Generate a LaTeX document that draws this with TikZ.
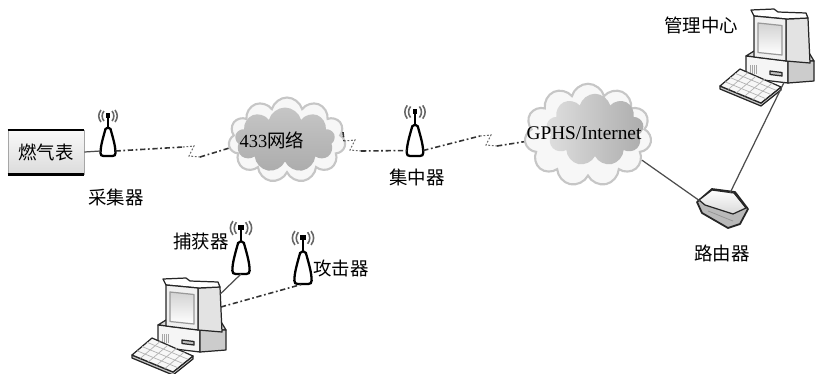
\documentclass[tikz,border=0pt]{standalone}
\usepackage{fontspec}
\setmainfont{Liberation Serif}
\newfontfamily\cjk{Noto Sans CJK SC}
\usetikzlibrary{shapes.symbols}
\tikzset{
  tag/.style={font=\fontsize{10.5}{12}\selectfont, inner sep=1pt},
  cable/.style={draw=black!70, line width=0.7pt},
  radio/.style={draw=black!80, line width=0.9pt, dash pattern=on 3pt off 1.5pt on 1pt off 1.5pt},
  radiozig/.style={draw=black!60, line width=0.6pt, dash pattern=on 1pt off 1pt},
  pcpart/.style={draw=black!85, line width=0.7pt, line join=round},
  antbody/.style={draw=black, line width=1.3pt, fill=white},
  wave/.style={draw=black!60, line width=0.9pt},
  netcloud/.style={cloud, cloud puffs=11, cloud ignores aspect, draw=gray!45,
    line width=1.2pt, fill=gray!6, inner sep=0pt},
  netcore/.style={cloud, cloud puffs=9, cloud ignores aspect, draw=none,
    top color=gray!45, bottom color=gray!65, inner sep=0pt},
  meterbox/.style={draw=gray!70, top color=gray!5, bottom color=gray!28,
    minimum width=1.52cm, minimum height=0.88cm, inner sep=0pt}
}
% antenna: name, foot point, size
\newcommand\antenna[3]{%
  \begin{scope}[shift={(#2)}, scale=#3]
    \draw[wave] (-4,-45) .. controls (-6.5,-42) and (-6.5,-38) .. (-4,-35);
    \draw[wave] (-7,-46) .. controls (-10,-42) and (-10,-38) .. (-7,-34);
    \draw[wave] (4,-45) .. controls (6.5,-42) and (6.5,-38) .. (4,-35);
    \draw[wave] (7,-46) .. controls (10,-42) and (10,-38) .. (7,-34);
    \draw[line width=1.4pt] (0,-26) -- (0,-40);
    \fill (-2.2,-43) rectangle (2.2,-38);
    \draw[antbody] (-2.5,-27) .. controls (-5,-18) and (-7.5,-10) .. (-7.5,-3)
      .. controls (-7.5,-1) and (-6.5,0) .. (-4.5,0) -- (4.5,0)
      .. controls (6.5,0) and (7.5,-1) .. (7.5,-3)
      .. controls (7.5,-10) and (5,-18) .. (2.5,-27)
      .. controls (1.5,-29) and (-1.5,-29) .. (-2.5,-27) -- cycle;
    \coordinate (#1-l) at (-7.5,-5);
    \coordinate (#1-r) at (7.5,-5);
    \coordinate (#1) at (0,0);
  \end{scope}
}
% desktop pc: name, origin
\newcommand\computer[2]{%
  \begin{scope}[shift={(#2)}]
    % case
    \draw[pcpart, fill=gray!30] (-2,45) -- (6,40) -- (60,40) -- (66,50) -- (40,50) -- cycle;
    \draw[pcpart, fill=gray!8] (-2,45) -- (40,50) -- (40,72) -- (-2,67) -- cycle;
    \draw[pcpart, fill=gray!40] (40,50) -- (66,50) -- (66,70) -- (40,72) -- cycle;
    \foreach \v in {2,4,6,8} \draw[gray!70] (\v,54) -- (\v,63);
    \draw[pcpart, fill=gray!50] (22,60) -- (34,61.5) -- (34,65) -- (22,63.5) -- cycle;
    % monitor
    \draw[pcpart, fill=gray!22] (38,8) -- (60,7) -- (62,52) -- (38,50) -- cycle;
    \draw[pcpart, fill=white] (6,5) -- (3,-1) -- (26,-2) -- (30,1) -- (58,2) -- (60,7) -- (38,8) -- cycle;
    \draw[pcpart, fill=gray!12] (6,5) -- (38,8) -- (38,50) -- (6,46) -- cycle;
    \draw[pcpart, draw=gray!80, top color=gray!35, bottom color=white]
      (10,12) -- (34,14.5) -- (34,44) -- (10,41.5) -- cycle;
    % keyboard
    \draw[pcpart, fill=gray!45] (-28,75) -- (13,92) -- (33,76) -- (33,79) -- (13,95) -- (-28,78) -- cycle;
    \draw[pcpart, fill=gray!6] (-28,75) -- (-8,58) -- (33,76) -- (13,92) -- cycle;
    \foreach \t in {0.25,0.5,0.75}
      \draw[gray!60] ({-28+20*\t},{75-17*\t}) -- ++(41,17);
    \foreach \t in {0.2,0.4,0.6,0.8}
      \draw[gray!60] ({-28+41*\t},{75+17*\t}) -- ++(20,-17);
    \coordinate (#1-p1) at (60.3,14);
    \coordinate (#1-p2) at (60.9,27);
    \coordinate (#1-foot) at (36,71.5);
  \end{scope}
}
% wireless hop: from, zigzag centre, to
\newcommand\radiolink[3]{%
  \draw[radio] (#1) -- ([shift={(-6,-4)}]#2);
  \draw[radiozig] ([shift={(-6,-4)}]#2) -- ++(11,-1) -- ++(-5,10) -- ++(11,1);
  \draw[radio] ([shift={(11,6)}]#2) -- (#3);
}

\begin{document}
\begin{tikzpicture}[x=0.02cm, y=-0.02cm]
\useasboundingbox (0,0) rectangle (816,373);

% clouds
\node[netcloud, minimum width=2.34cm, minimum height=1.7cm] (c433) at (287,140) {};
\node[netcore, minimum width=2.0cm, minimum height=1.3cm] (c433core) at (285,140) {};
\node[netcloud, minimum width=2.54cm, minimum height=2.05cm] (gphs) at (588,135) {};
\node[netcore, minimum width=1.95cm, minimum height=1.45cm,
  left color=gray!25, right color=gray!65] (gphscore) at (595,130) {};

% gas meter
\node[meterbox] (meter) at (46,152) {\fontsize{10.5}{12}\selectfont\cjk 燃气表};
\draw[line width=1.2pt] (meter.north west) -- (meter.north east);
\draw[line width=1.8pt] (meter.south west) -- (meter.south east);

\antenna{cjq}{108,156}{1}
\antenna{jzq}{415,156}{1.1}
\antenna{bhq}{241,274}{1.15}
\antenna{gjq}{303,284}{1.15}

\computer{pcA}{160,280}
\computer{pcB}{748,11}

% router
\draw[pcpart, fill=gray!55, line width=1pt] (697,202) -- (712,189) -- (735,192) -- (748,209)
  -- (740,224) -- (728,228) -- (702,213) -- cycle;
\draw[pcpart, top color=white, bottom color=gray!30] (699,200) -- (712,190) -- (734,193)
  -- (746,208) -- (733,214) -- (705,205) -- cycle;
\draw[gray!85] (708,211) .. controls (716,214) and (725,218) .. (733,221);
\coordinate (router-w) at (700,201);
\coordinate (router-n) at (730,193);

% links
\coordinate (z1) at (189,151);
\coordinate (z2) at (350,145);
\coordinate (z3) at (486,140);
\draw[cable] (meter.east) -- (cjq-l);
\radiolink{cjq-r}{z1}{c433.188}
\radiolink{c433.8}{z2}{jzq-l}
\radiolink{jzq-r}{z3}{gphs.186}
\draw[cable] (gphs.-25) -- (router-w);
\draw[cable] (router-n) -- (pcB-foot);
\draw[cable] (pcA-p1) -- (bhq);
\draw[radio] (pcA-p2) -- (gjq);

% labels
\node[tag] (t-cjq) at (116,197) {\cjk 采集器};
\node[tag] (t-433) at (272,140) {433\cjk 网络};
\node[tag] (t-jzq) at (417,177) {\cjk 集中器};
\node[tag, font=\fontsize{11}{13}\selectfont] (t-gphs) at (584,133) {GPHS/Internet};
\node[tag] (t-glzx) at (701,25) {\cjk 管理中心};
\node[tag] (t-lyq) at (722,253) {\cjk 路由器};
\node[tag] (t-bhq) at (201,242) {\cjk 捕获器};
\node[tag] (t-gjq) at (341,268) {\cjk 攻击器};
\end{tikzpicture}
\end{document}
